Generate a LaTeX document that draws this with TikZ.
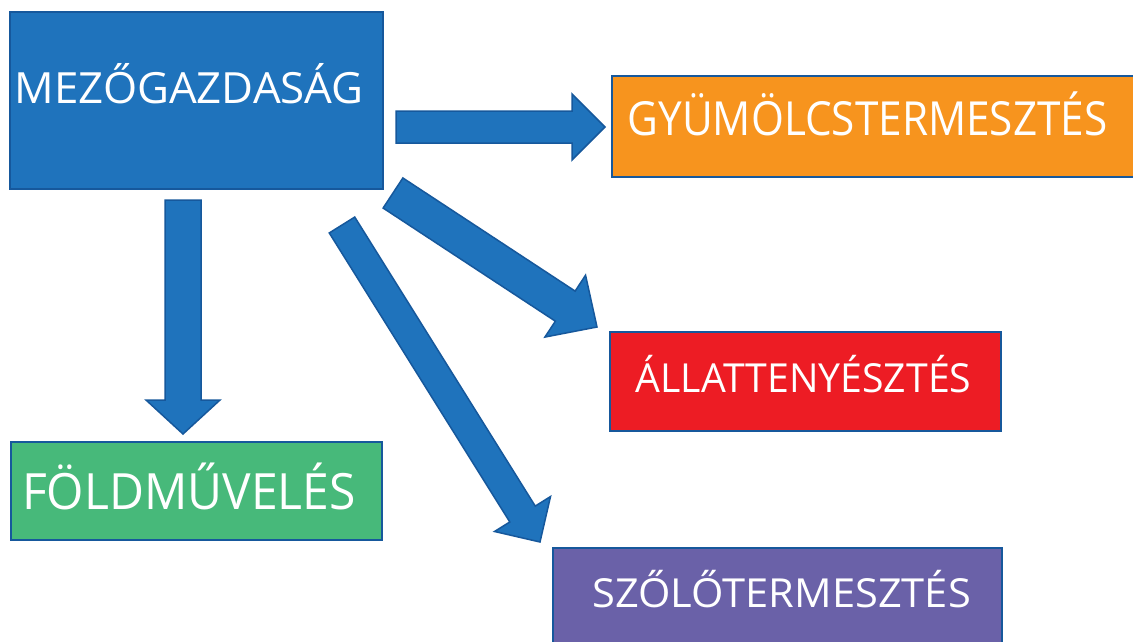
\documentclass[tikz,border=0pt]{standalone}
\usepackage{fontspec}
\setmainfont{Open Sans}
\usetikzlibrary{calc}
\definecolor{mezblue}{RGB}{31,115,188}
\definecolor{edgeblue}{RGB}{22,88,156}
\definecolor{gyorange}{RGB}{247,148,30}
\definecolor{allred}{RGB}{237,28,36}
\definecolor{foldgreen}{RGB}{71,185,122}
\definecolor{szpurple}{RGB}{106,97,168}
\tikzset{
  box/.style={draw=edgeblue, line width=2.5pt, rectangle, inner sep=0pt},
  lbl/.style={text=white, inner sep=0pt, anchor=base},
  fat/.style={draw=edgeblue, fill=mezblue, line width=1.5pt, line join=miter}
}
% #1 tail, #2 tip, #3 half shaft, #4 half head, #5 head length
\newcommand\fatarrow[5]{%
  \coordinate (hb) at ($(#2)!#5!(#1)$);
  \draw[fat] ($(#1)!#3!90:(#2)$) -- ($(hb)!#3!90:(#2)$) -- ($(hb)!#4!90:(#2)$)
    -- (#2) -- ($(hb)!#4!-90:(#2)$) -- ($(hb)!#3!-90:(#2)$) -- ($(#1)!#3!-90:(#2)$) -- cycle;
}

\begin{document}
\begin{tikzpicture}[x=1pt, y=-1pt]
  \useasboundingbox[fill=white] (0,0) rectangle (1133,641);

  \node[box, fill=mezblue, minimum width=373pt, minimum height=177pt] (mez) at (196.5,100.5) {};
  \node[box, fill=gyorange, minimum width=540pt, minimum height=101pt] (gyum) at (882,126.5) {};
  \node[box, fill=allred, minimum width=391pt, minimum height=99pt] (allat) at (805.5,381.5) {};
  \node[box, fill=foldgreen, minimum width=371pt, minimum height=98pt] (fold) at (196.5,491) {};
  \node[box, fill=szpurple, minimum width=449pt, minimum height=120pt] (szolo) at (777.5,608) {};

  \node[lbl, font=\fontsize{43}{43}\selectfont\addfontfeature{FakeStretch=1.02}] (mezt) at (189,103) {MEZŐGAZDASÁG};
  \node[lbl, font=\fontsize{47}{47}\selectfont\addfontfeature{FakeStretch=0.9}] (gyumt) at (867.5,135) {GYÜMÖLCSTERMESZTÉS};
  \node[lbl, font=\fontsize{40}{40}\selectfont\addfontfeature{FakeStretch=0.98}] (allatt) at (803.5,392) {ÁLLATTENYÉSZTÉS};
  \node[lbl, font=\fontsize{50}{50}\selectfont\addfontfeature{FakeStretch=0.96}] (foldt) at (189,509) {FÖLDMŰVELÉS};
  \node[lbl, font=\fontsize{40}{40}\selectfont\addfontfeature{FakeStretch=1.04}] (szolot) at (781.5,607) {SZŐLŐTERMESZTÉS};

  \coordinate (r0) at (396,127);  \coordinate (r1) at (605,127);
  \coordinate (d0) at (183,200);  \coordinate (d1) at (183,434);
  \coordinate (a0) at (393,193);  \coordinate (a1) at (597,327);
  \coordinate (s0) at (342,225);  \coordinate (s1) at (540,542);

  \fatarrow{r0}{r1}{16pt}{33pt}{33pt}
  \fatarrow{d0}{d1}{18pt}{37pt}{34pt}
  \fatarrow{a0}{a1}{18pt}{37pt}{38pt}
  \fatarrow{s0}{s1}{15pt}{33pt}{33pt}
\end{tikzpicture}
\end{document}
